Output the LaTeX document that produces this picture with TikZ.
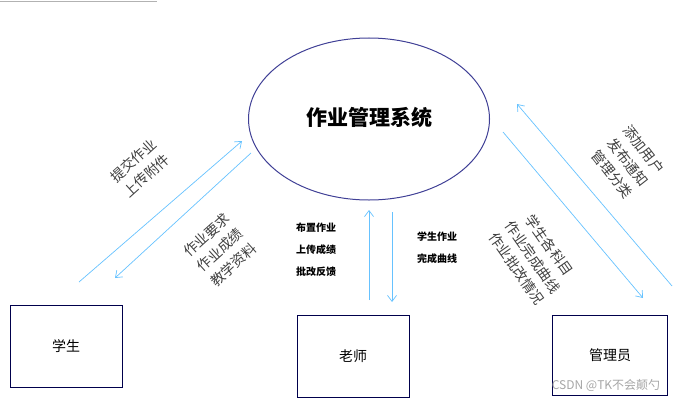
\documentclass[tikz,border=0pt]{standalone}
\usepackage{fontspec}
\setmainfont{Noto Sans CJK SC}
\usetikzlibrary{arrows.meta,shapes.geometric}
\begin{document}
\begin{tikzpicture}[x=1pt,y=-1pt,
  box/.style={draw=black!70!blue,line width=0.8pt,minimum width=112pt,minimum height=82pt,font=\fontsize{14}{16}\selectfont},
  conn/.style={draw=blue!40!cyan!60!white,line width=0.7pt,-{Straight Barb[length=6pt,width=9pt]}},
  lab/.style={font=\fontsize{14}{20}\selectfont,text=black!75,align=center},
  small/.style={font=\bfseries\fontsize{10}{22}\selectfont,align=left}]
\useasboundingbox (0,0) rectangle (692,404);
\draw[gray!60] (0,1) -- (157,1);
\node[draw=blue!45!black!75,line width=1pt,ellipse,minimum width=241pt,minimum height=162pt] (sys) at (369,119) {};
\node[font=\bfseries\fontsize{21}{24}\selectfont] (t) at (369,117) {作业管理系统};
\node[box] (stu) at (66,346) {学生};
\node[box] (tea) at (353,356) {老师};
\node[box,minimum width=115pt,minimum height=80pt] (adm) at (610,355) {管理员};
\coordinate (a1) at (79,282); \coordinate (a2) at (242,141);
\coordinate (b1) at (251,153); \coordinate (b2) at (115,278);
\coordinate (c1) at (672,286); \coordinate (c2) at (517,104);
\coordinate (d1) at (503,132); \coordinate (d2) at (643,298);
\coordinate (e1) at (369,300); \coordinate (e2) at (369,210);
\coordinate (f1) at (392,212); \coordinate (f2) at (392,302);
\draw[conn] (a1) -- (a2);
\draw[conn] (b1) -- (b2);
\draw[conn] (c1) -- (c2);
\draw[conn] (d1) -- (d2);
\draw[conn] (e1) -- (e2);
\draw[conn] (f1) -- (f2);
\node[lab,rotate=42] (l1) at (140,168) {提交作业\\上传附件};
\node[lab,rotate=42] (l2) at (220,250) {作业要求\\作业成绩\\教学资料};
\node[lab,rotate=-52] (l3) at (628,162) {添加用户\\发布通知\\管理分类};
\node[lab,rotate=-55] (l4) at (533,257) {学生各科目\\作业完成曲线\\作业批改情况};
\node[small] (m1) at (316,250) {布置作业\\上传成绩\\批改反馈};
\node[small] (m2) at (437,248) {学生作业\\完成曲线};
\node[text=gray!70,font=\fontsize{12}{14}\selectfont] (w) at (606,385) {CSDN @TK不会颠勺};
\end{tikzpicture}
\end{document}
